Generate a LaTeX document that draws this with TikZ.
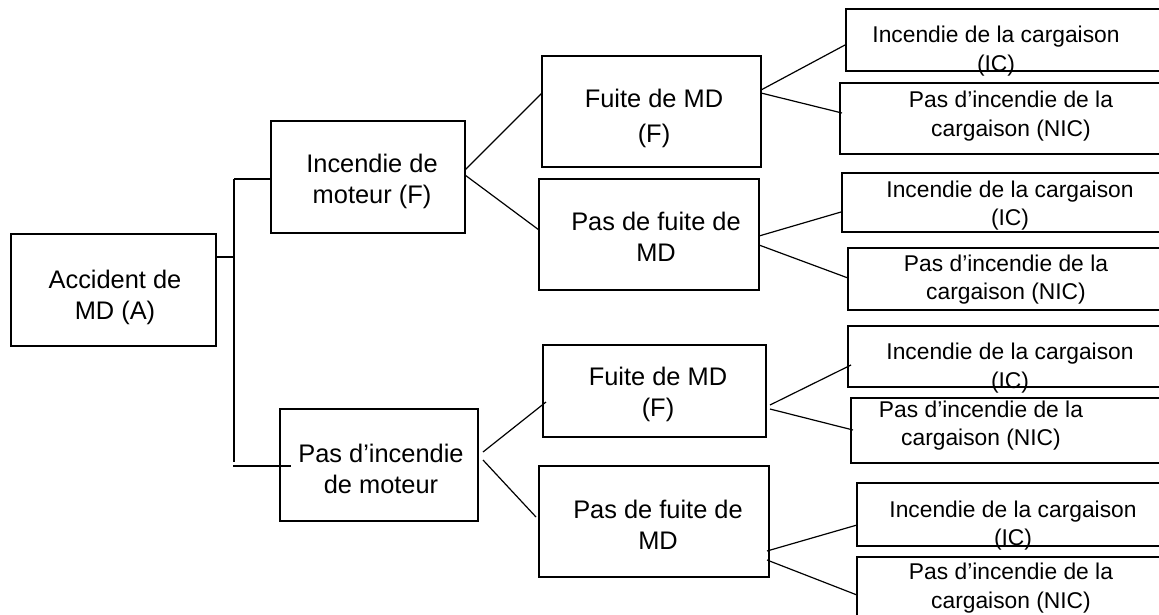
\documentclass[tikz,border=0pt]{standalone}
\usepackage{fontspec}
\setmainfont{Liberation Sans}
\usetikzlibrary{calc}
\begin{document}
\begin{tikzpicture}[x=1pt,y=-1pt,
  box/.style={draw, line width=1.2pt, inner sep=0pt, outer sep=0pt, anchor=north west},
  midtext/.style={align=center, inner sep=0pt, font=\fontsize{25.4}{31}\selectfont},
  leaftext/.style={align=center, inner sep=0pt, font=\fontsize{22.8}{28.5}\selectfont},
  link/.style={line width=1.2pt}]
\useasboundingbox (0,0) rectangle (1159,614);
\clip (0,0) rectangle (1159,614);

% root and first-level events
\node[box, minimum width=205pt, minimum height=112pt] (A)  at (11,234)  {};
\node[box, minimum width=194pt, minimum height=112pt] (F1) at (271,121) {};
\node[box, minimum width=198pt, minimum height=112pt] (F2) at (280,409) {};

% second-level events
\node[box, minimum width=219pt, minimum height=111pt] (L1) at (542,56)  {};
\node[box, minimum width=220pt, minimum height=111pt] (L2) at (539,179) {};
\node[box, minimum width=223pt, minimum height=92pt]  (L3) at (543,345) {};
\node[box, minimum width=230pt, minimum height=111pt] (L4) at (539,466) {};

% outcomes (running past the right edge)
\node[box, minimum width=324pt, minimum height=62pt] (E1) at (846,9)   {};
\node[box, minimum width=330pt, minimum height=71pt] (E2) at (840,83)  {};
\node[box, minimum width=328pt, minimum height=59pt] (E3) at (842,173) {};
\node[box, minimum width=322pt, minimum height=62pt] (E4) at (848,248) {};
\node[box, minimum width=322pt, minimum height=61pt] (E5) at (848,326) {};
\node[box, minimum width=319pt, minimum height=65pt] (E6) at (851,398) {};
\node[box, minimum width=313pt, minimum height=63pt] (E7) at (857,483) {};
\node[box, minimum width=313pt, minimum height=68pt] (E8) at (857,557) {};

% labels
\node[midtext] (tA)  at (115,297)   {Accident de\\MD (A)};
\node[midtext] (tF1) at (372,181)   {Incendie de\\moteur (F)};
\node[midtext] (tF2) at (381,468.5) {Pas d’incendie\\de moteur};
\node[midtext, font=\fontsize{25.4}{35}\selectfont] (tL1) at (654,118) {Fuite de MD\\(F)};
\node[midtext] (tL2) at (656,236.5) {Pas de fuite de\\MD};
\node[midtext] (tL3) at (658,394.5) {Fuite de MD\\(F)};
\node[midtext] (tL4) at (658,525)   {Pas de fuite de\\MD};

\node[leaftext] (tE1) at (996,51)    {Incendie de la cargaison\\(IC)};
\node[leaftext] (tE2) at (1011,116)  {Pas d’incendie de la\\cargaison (NIC)};
\node[leaftext] (tE3) at (1010,205.5){Incendie de la cargaison\\(IC)};
\node[leaftext] (tE4) at (1006,279.5){Pas d’incendie de la\\cargaison (NIC)};
\node[leaftext] (tE5) at (1010,368)  {Incendie de la cargaison\\(IC)};
\node[leaftext] (tE6) at (981,425.5) {Pas d’incendie de la\\cargaison (NIC)};
\node[leaftext] (tE7) at (1013,525.5){Incendie de la cargaison\\(IC)};
\node[leaftext] (tE8) at (1011,588)  {Pas d’incendie de la\\cargaison (NIC)};

% bracket joining the root to the first-level events
\coordinate (spinetop) at (234,179);
\coordinate (spinebot) at (234,462);
\draw[link] ($(A.east)+(0,-33)$) -- (spinetop |- 0,257);
\draw[link] (spinetop) -- (spinebot);
\draw[link] (spinetop) -- (F1.west |- 0,179);
\draw[link] (233,466) -- ($(F2.west)+(11,1)$);

% first level to second level
\draw[link] ($(F1.east)+(0,-7)$) -- ($(L1.west)+(0,-18.5)$);
\draw[link] ($(F1.east)+(0,-2)$) -- ($(L2.west)+(0,-4.5)$);
\draw[link] ($(F2.east)+(5,-13)$) -- ($(L3.west)+(3,11)$);
\draw[link] ($(F2.east)+(5,-5)$)  -- ($(L4.west)+(-3,-4.5)$);

% second level to outcomes
\draw[link] ($(L1.east)+(0,-21.5)$) -- ($(E1.west)+(-1,5)$);
\draw[link] ($(L1.east)+(0,-18.5)$) -- ($(E2.west)+(2,-5.5)$);
\draw[link] ($(L2.east)+(0,1.5)$)   -- ($(E3.west)+(-1,9.5)$);
\draw[link] ($(L2.east)+(0,10.5)$)  -- ($(E4.west)+(0,-1)$);
\draw[link] ($(L3.east)+(4,14)$)    -- ($(E5.west)+(3,8.5)$);
\draw[link] ($(L3.east)+(4,18)$)    -- ($(E6.west)+(2,-0.5)$);
\draw[link] ($(L4.east)+(-2,29.5)$) -- ($(E7.west)+(0,10.5)$);
\draw[link] ($(L4.east)+(-2,38.5)$) -- ($(E8.west)+(0,4)$);
\end{tikzpicture}
\end{document}
